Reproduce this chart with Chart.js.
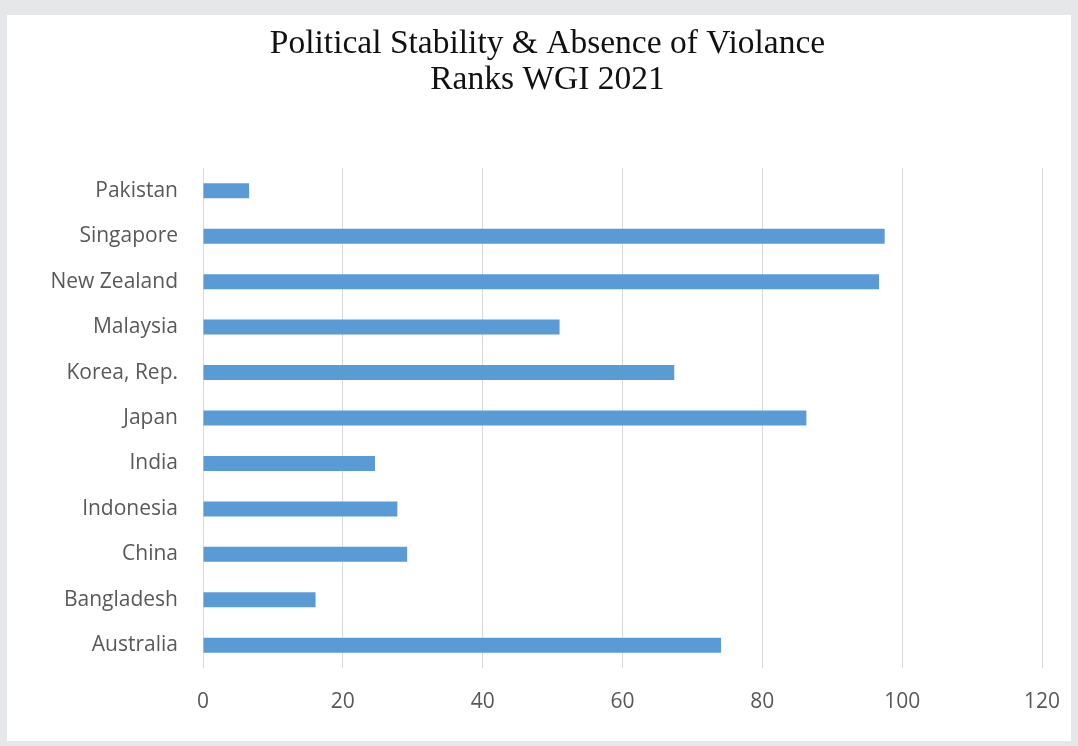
<!DOCTYPE html>
<html>
<head>
<meta charset="utf-8">
<script src="https://cdn.jsdelivr.net/npm/chart.js@4/dist/chart.umd.min.js"></script>
<style>
  html, body { margin: 0; padding: 0; background: #e6e7e9; width: 1078px; height: 746px; overflow: hidden; }
  #panel { position: absolute; left: 7px; top: 15px; width: 1064px; height: 726px; background: #ffffff; }
  canvas { display: block; }
</style>
</head>
<body>
<div id="panel"><canvas id="c" width="1064" height="726"></canvas></div>
<script>
// Countries listed top to bottom as drawn
const countries = ['Pakistan', 'Singapore', 'New Zealand', 'Malaysia', 'Korea, Rep.', 'Japan', 'India', 'Indonesia', 'China', 'Bangladesh', 'Australia'];
// Percentile rank, Political Stability & Absence of Violence (WGI 2021)
const ranks = [6.6, 97.5, 96.7, 51.0, 67.4, 86.3, 24.6, 27.8, 29.2, 16.1, 74.1];
const titleLines = ['Political Stability & Absence of Violance', 'Ranks WGI 2021'];
const xMin = 0, xMax = 120, xStep = 20;

const labelFont = { family: '"Open Sans", sans-serif', size: 21 };

new Chart(document.getElementById('c'), {
  type: 'bar',
  data: {
    labels: countries,
    datasets: [{
      data: ranks,
      backgroundColor: '#5b9bd5',
      borderWidth: 0,
      categoryPercentage: 1,
      barPercentage: 0.33
    }]
  },
  options: {
    indexAxis: 'y',
    responsive: false,
    animation: false,
    layout: { padding: { left: 42, right: 25, top: 0, bottom: 0 } },
    plugins: {
      legend: { display: false },
      tooltip: { enabled: false },
      title: {
        display: true,
        text: titleLines,
        color: '#111111',
        font: { family: '"Liberation Serif", "Times New Roman", serif', size: 33.5, weight: 'normal', lineHeight: 1.075 },
        padding: { top: 11, bottom: 70 }
      }
    },
    scales: {
      x: {
        min: xMin, max: xMax,
        ticks: { stepSize: xStep, color: '#595959', padding: 21, font: labelFont },
        grid: { color: '#d9d9d9', lineWidth: 1, drawTicks: false },
        border: { display: false },
        afterFit: (s) => { s.height = 73; s.paddingLeft = 0; s.paddingRight = 29; }
      },
      y: {
        ticks: { color: '#595959', padding: 25, font: labelFont },
        grid: { display: false, drawTicks: false },
        border: { display: false },
        afterFit: (s) => { s.width = 154; s.paddingTop = 0; s.paddingBottom = 0; }
      }
    }
  }
});
</script>
</body>
</html>
